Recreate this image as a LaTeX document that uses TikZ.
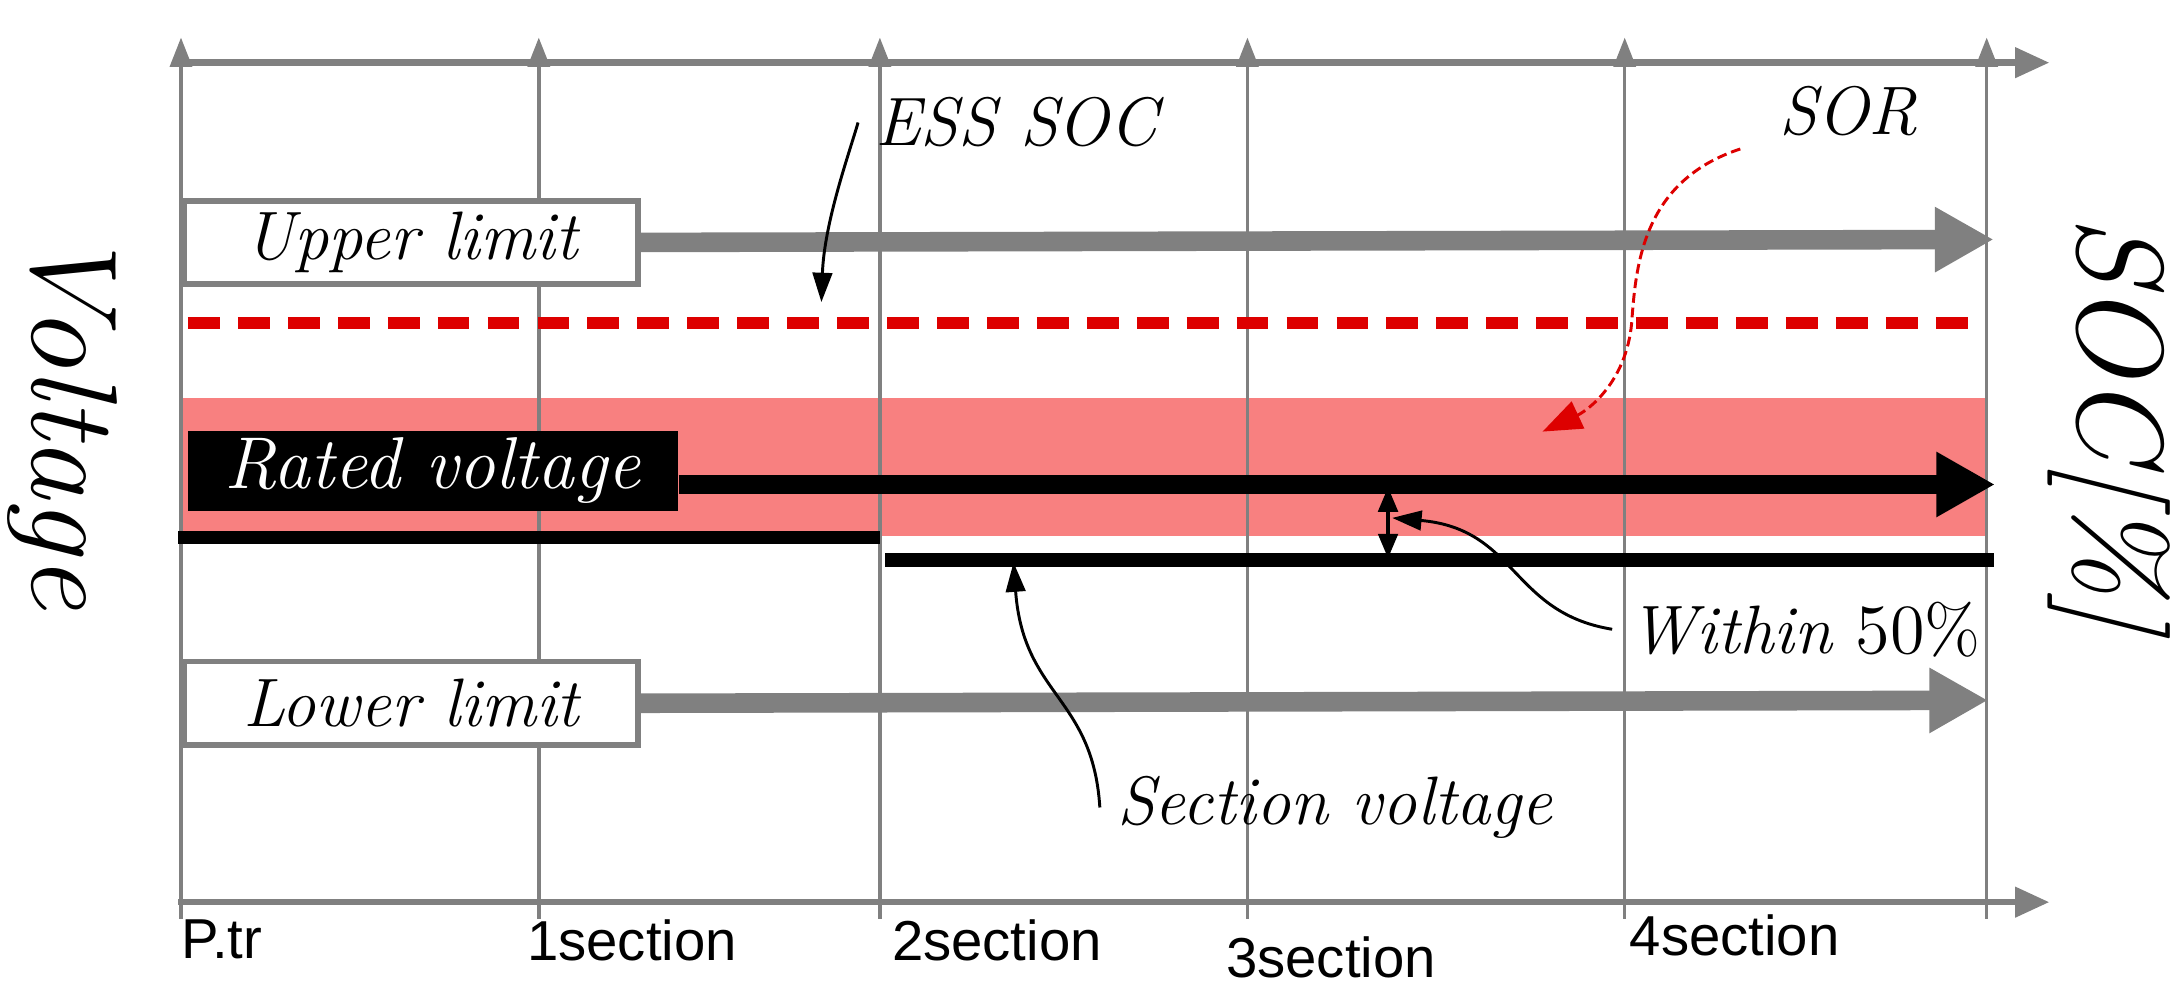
\documentclass[tikz,border=0pt]{standalone}
\usepackage{fontspec}
\newfontfamily\sansf{Liberation Sans}
\usetikzlibrary{arrows.meta}
\definecolor{gr}{HTML}{808080}
\definecolor{rd}{HTML}{DD0000}
\definecolor{pk}{HTML}{F88080}
\begin{document}
\begin{tikzpicture}[x=0.01cm,y=-0.01cm,
  grid/.style={gr,line width=0.7pt,-{Triangle[length=6pt,width=4.5pt]}},
  axis/.style={gr,line width=1.3pt,-{Triangle[length=7pt,width=6pt]}},
  bigg/.style={gr,line width=4pt,-{Triangle[length=12pt,width=12.5pt]}},
  bigb/.style={black,line width=4pt,-{Triangle[length=12pt,width=12.5pt]}},
  lbl/.style={font=\fontsize{14}{16}\selectfont\itshape},
  sec/.style={font=\sansf\fontsize{11.5}{13}\selectfont,anchor=north west,inner sep=0},
  box/.style={draw=gr,line width=1.2pt,fill=white,minimum width=3.26cm,minimum height=0.6cm,anchor=north west,inner sep=0,font=\fontsize{14}{16}\selectfont\itshape},
  call/.style={black,line width=0.6pt,-{Triangle[length=6pt,width=4pt]}}]
\useasboundingbox (0,0) rectangle (1568,715);
% pink band
\fill[pk] (130,286) rectangle (1427,385);
% grid lines
\foreach \n/\x in {a/130,b/387,c/632,d/896,e/1167,f/1427}{
  \coordinate (\n0) at (\x,660); \coordinate (\n1) at (\x,27);
  \draw[grid] (\n0) -- (\n1);}
\coordinate (t0) at (128,45); \coordinate (t1) at (1472,45);
\coordinate (u0) at (128,648); \coordinate (u1) at (1472,648);
\draw[axis] (t0) -- (t1);
\draw[axis] (u0) -- (u1);
% upper limit
\node[box] (up) at (130,142) {Upper limit};
\coordinate (upe) at (1432,172);
\draw[bigg] (up.east) -- (upe);
% red dashed
\coordinate (r0) at (135,232); \coordinate (r1) at (1425,232);
\draw[rd,line width=2.3pt,dash pattern=on 6.5pt off 3.7pt] (r0) -- (r1);
% rated voltage
\node[fill=black,text=white,minimum width=3.52cm,minimum height=0.57cm,anchor=north west,inner sep=0,font=\fontsize{15}{17}\selectfont\itshape] (rv) at (134,309) {Rated voltage};
\coordinate (rve) at (1433,348);
\draw[bigb] (rv.east|-rve) -- (rve);
% section lines
\coordinate (s0) at (128,386); \coordinate (s1) at (632,386);
\coordinate (s2) at (636,402); \coordinate (s3) at (1432,402);
\draw[black,line width=2.8pt] (s0) -- (s1);
\draw[black,line width=2.8pt] (s2) -- (s3);
% double arrow
\coordinate (w0) at (997,350); \coordinate (w1) at (997,401);
\draw[black,line width=0.7pt,{Triangle[length=5pt,width=4pt]}-{Triangle[length=5pt,width=4pt]}] (w0) -- (w1);
% lower limit
\node[box] (lo) at (130,473) {Lower limit};
\coordinate (loe) at (1428,503);
\draw[bigg] (lo.east) -- (loe);
% labels
\node[lbl] (ess) at (730,88) {ESS SOC};
\coordinate (esst) at (590,217);
\draw[call] (ess.west) .. controls (610,110) and (592,160) .. (esst);
\node[lbl] (sor) at (1328,80) {SOR};
\coordinate (sort) at (1108,310);
\draw[rd,line width=0.6pt,dash pattern=on 2pt off 1pt,-{Triangle[length=8pt,width=6pt]}] (1250,107) .. controls (1180,130) and (1175,190) .. (1172,232) .. controls (1168,275) and (1140,295) .. (sort);
\node[lbl,anchor=west] (wi) at (1158,452) {Within $50\%$};
\coordinate (wit) at (1000,372);
\draw[call] (wi.west) .. controls (1085,440) and (1090,380) .. (wit);
\node[lbl,anchor=west] (sv) at (790,580) {Section voltage};
\coordinate (svt) at (728,404);
\draw[call] (sv.west) .. controls (785,500) and (735,500) .. (svt);
% axis titles
\node[rotate=-90,font=\fontsize{25}{28}\selectfont\itshape] (vt) at (45,300) {Voltage};
\node[rotate=-90,font=\fontsize{25}{28}\selectfont\itshape] (st) at (1515,305) {SOC[\%]};
% section labels
\node[sec] (p0) at (130,660) {P.tr};
\node[sec] (p1) at (378,660) {1section};
\node[sec] (p2) at (640,660) {2section};
\node[sec] (p3) at (880,672) {3section};
\node[sec] (p4) at (1170,656) {4section};
\end{tikzpicture}
\end{document}
